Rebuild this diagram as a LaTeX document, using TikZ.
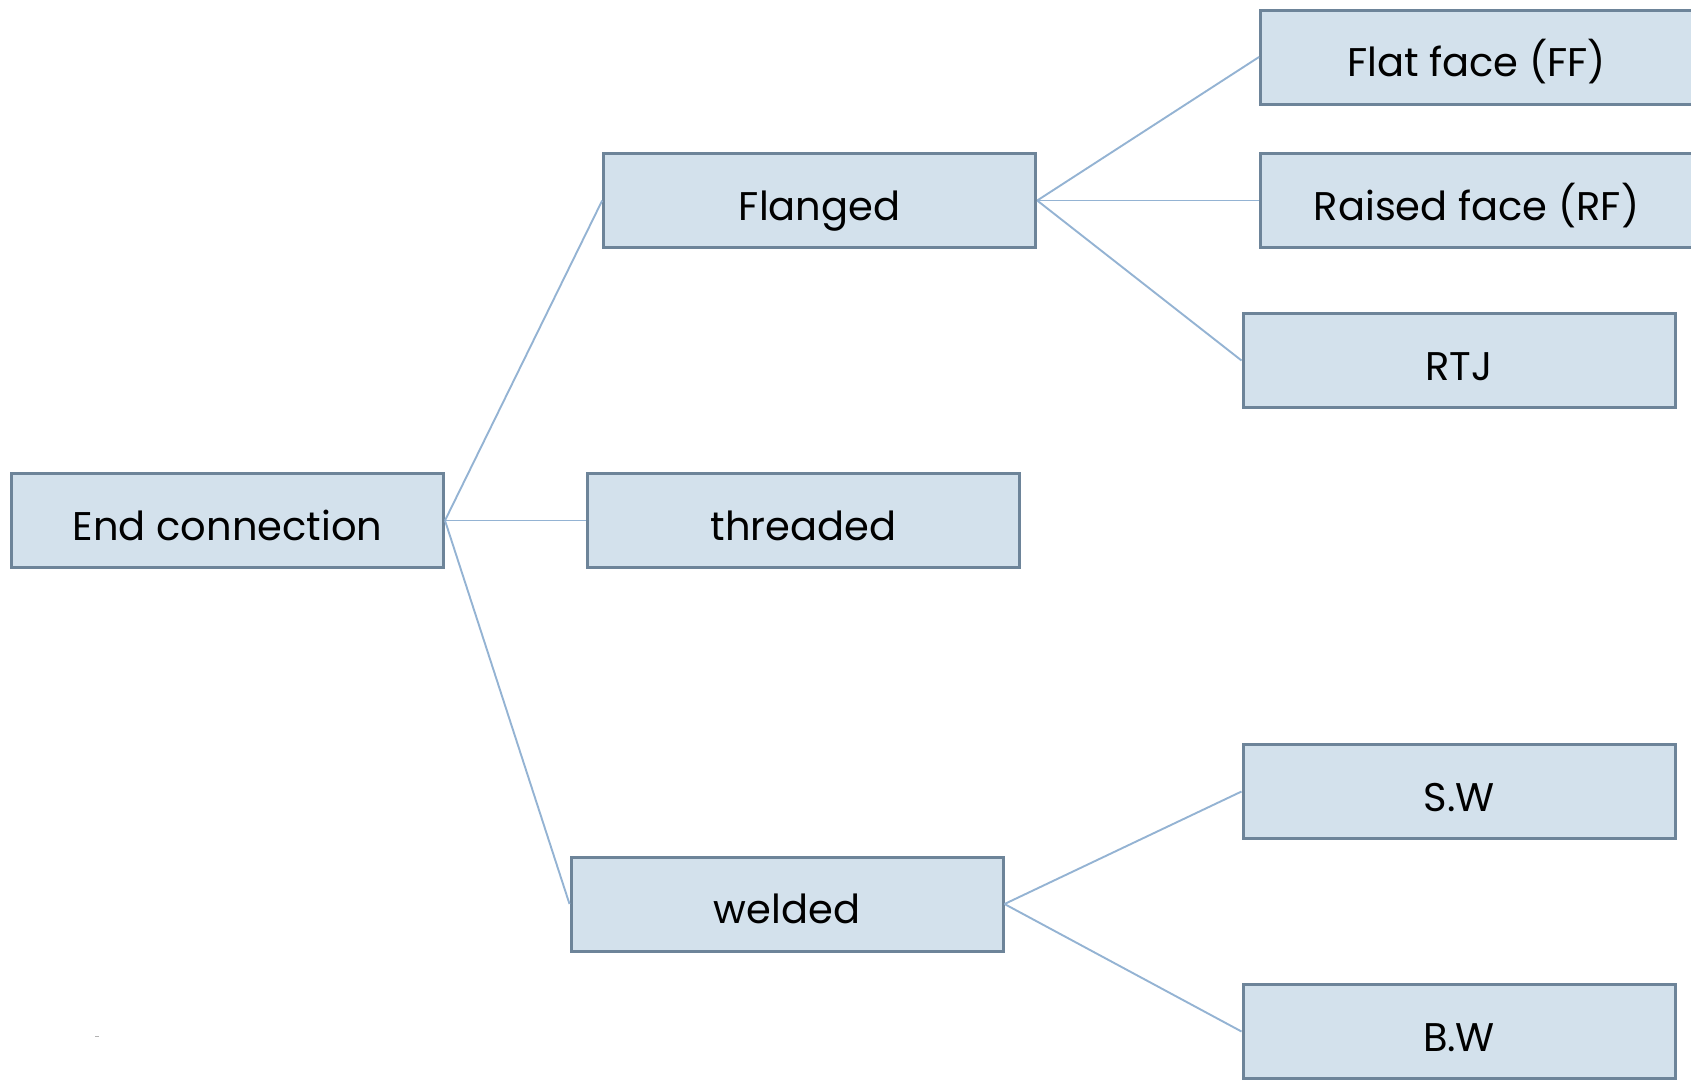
\documentclass[tikz,border=0pt]{standalone}
\usepackage{fontspec}
\setmainfont{Poppins}
\definecolor{boxfill}{HTML}{D3E1EC}
\definecolor{boxline}{HTML}{6D8499}
\definecolor{conn}{HTML}{94B3D3}
\begin{document}
\begin{tikzpicture}[x=1pt,y=-1pt,
  box/.style={draw=boxline,fill=boxfill,line width=3pt,minimum width=432pt,minimum height=94pt,inner sep=0pt,font=\fontsize{40}{46}\selectfont,text height=39pt,text depth=0pt},
  link/.style={draw=conn,line width=1.9pt}]
\useasboundingbox (0,0) rectangle (1691,1080);
\node[box] (end) at (227.5,520.5) {End connection};
\node[box] (fl) at (819.7,200.5) {Flanged};
\node[box] (th) at (803.4,520.5) {threaded};
\node[box] (we) at (787,904) {welded};
\node[box] (ff) at (1476.5,57) {Flat face (FF)};
\node[box] (rf) at (1476.5,200.5) {Raised face (RF)};
\node[box] (rtj) at (1459,360.5) {RTJ};
\node[box] (sw) at (1459,791.5) {S.W};
\node[box] (bw) at (1459,1031.5) {B.W};
\draw[link] (end.east) -- (fl.west);
\draw[link] (end.east) -- (th.west);
\draw[link] (end.east) -- (we.west);
\draw[link] (fl.east) -- (ff.west);
\draw[link] (fl.east) -- (rf.west);
\draw[link] (fl.east) -- (rtj.west);
\draw[link] (we.east) -- (sw.west);
\draw[link] (we.east) -- (bw.west);
\coordinate (m1) at (95,1036);
\coordinate (m2) at (99,1036);
\draw[gray!60,line width=0.8pt] (m1) -- (m2);
\end{tikzpicture}
\end{document}
